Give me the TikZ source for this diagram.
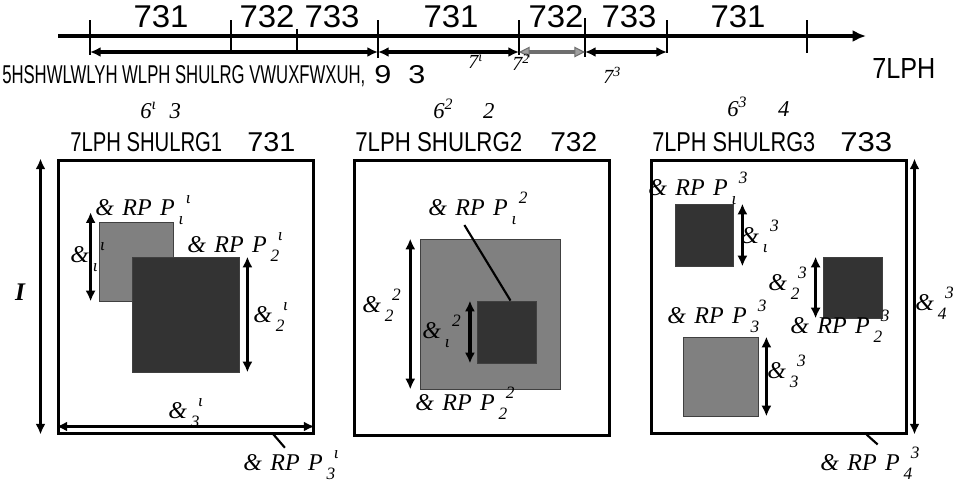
\documentclass[tikz,border=0pt]{standalone}
\usepackage{fontspec}
\usepackage{graphicx}
\setmainfont{Liberation Serif}
\newfontfamily\arialfont{Liberation Sans}
\usetikzlibrary{arrows.meta, fit, positioning}
\definecolor{sqdark}{HTML}{333333}
\definecolor{sqlight}{HTML}{808080}
\definecolor{tipgray}{HTML}{6E6E6E}
\newlength\pxu \setlength\pxu{0.75pt}
\newcommand{\supsub}[2]{\rlap{\hspace{0.3em}\raisebox{0.5em}{\fontsize{13}{13}\selectfont #2}}\raisebox{-0.4em}{\fontsize{13}{13}\selectfont #1}\hspace{0.3em}}
\newcommand{\cmlab}[3]{#1\hspace{3pt}\supsub{#2}{#3}}
\newcommand{\squeeze}[3]{\resizebox{#1\pxu}{#2\pxu}{#3}}
\tikzstyle{periodbox} = [draw, line width=2.25pt, inner sep=0pt]
\tikzstyle{darksq} = [draw=black!75, fill=sqdark, line width=0.6pt, inner sep=0pt]
\tikzstyle{lightsq} = [draw=black!75, fill=sqlight, line width=0.6pt, inner sep=0pt]
\tikzstyle{dimarrow} = [line width=2.4pt, {Latex[length=8pt,width=7.5pt]}-{Latex[length=8pt,width=7.5pt]}]
\tikzstyle{grayarrow} = [line width=2.4pt, draw=tipgray, {Triangle[length=8pt,width=8pt,fill=gray!75,line width=0.8pt]}-{Triangle[length=8pt,width=8pt,fill=gray!75,line width=0.8pt]}]
\tikzstyle{tick} = [line width=2pt]
\tikzstyle{pointer} = [line width=1.6pt]
\tikzstyle{lbl} = [font=\fontsize{18}{20}\selectfont\itshape, inner sep=0pt, anchor=base west]
\tikzstyle{smalllbl} = [font=\fontsize{15}{17}\selectfont\itshape, inner sep=0pt, anchor=base west]
\tikzstyle{sanslbl} = [font=\arialfont, inner sep=0pt, anchor=base west]

\begin{document}
\begin{tikzpicture}[x=0.75pt, y=-0.75pt]
	\useasboundingbox (0,0) rectangle (963,482);
	% time axis
	\coordinate (axstart) at (58,36);
	\coordinate (axend) at (866,36);
	\draw[line width=3.2pt, -{Latex[length=10pt,width=9pt]}] (axstart) -- (axend);
	\foreach \x/\ya/\yb [count=\i] in {90/20/55, 231/20/52, 297/29/52, 378/20/58, 519/20/55, 585/18/57, 667/20/53, 807/20/53}{
		\coordinate (tka\i) at (\x,\ya);
		\coordinate (tkb\i) at (\x,\yb);
		\draw[tick] (tka\i) -- (tkb\i);
	}
	\foreach \x/\t [count=\i] in {161/731, 267/732, 332/733, 451/731, 556/732, 629/733, 738/731}
		\node[sanslbl, anchor=base] (tp\i) at (\x,27) {\squeeze{55}{22}{\t}};
	\node[sanslbl] (timelab) at (872,78) {\squeeze{63}{20}{7LPH}};
	% repetitive structure
	\coordinate (r1) at (90,52);
	\coordinate (r2) at (378,52);
	\coordinate (r3) at (519,52);
	\coordinate (r4) at (585,52);
	\coordinate (r5) at (667,52);
	\draw[dimarrow] (r1) -- (r2);
	\draw[dimarrow] (r2) -- (r3);
	\draw[grayarrow] (r3) -- (r4);
	\draw[dimarrow] (r4) -- (r5);
	\node[sanslbl] (structlab) at (2,83) {\squeeze{363}{18}{5HSHWLWLYH WLPH SHULRG VWUXFWXUH,}\hspace{9\pxu}\squeeze{51}{18}{9\ \ 3}};
	\node[smalllbl] (tlab1) at (468,68) {7\textsuperscript{ι}};
	\node[smalllbl] (tlab2) at (512,70) {7\textsuperscript{2}};
	\node[smalllbl] (tlab3) at (603,83) {7\textsuperscript{3}};
	% titles
	\node[smalllbl, font=\fontsize{17}{19}\selectfont\itshape] (s1) at (140,118) {6\textsuperscript{ι}\hspace{13\pxu}3};
	\node[smalllbl, font=\fontsize{17}{19}\selectfont\itshape] (s2) at (433,118) {6\textsuperscript{2}\hspace{30\pxu}2};
	\node[smalllbl, font=\fontsize{17}{19}\selectfont\itshape] (s3) at (727,116) {6\textsuperscript{3}\hspace{31\pxu}4};
	\node[sanslbl] (title1) at (70,151) {\squeeze{152}{19}{7LPH SHULRG1}\hspace{25\pxu}\squeeze{48}{19}{731}};
	\node[sanslbl] (title2) at (355,151) {\squeeze{167}{19}{7LPH SHULRG2}\hspace{28\pxu}\squeeze{47}{19}{732}};
	\node[sanslbl] (title3) at (652,151) {\squeeze{163}{19}{7LPH SHULRG3}\hspace{25\pxu}\squeeze{52}{19}{733}};

	% period 1
	\node[periodbox, fit={(58,160) (313,433)}] (box1) {};
	\node[lightsq, fit={(99,222) (173,301)}] (c11) {};
	\node[darksq, fit={(132,257) (239,372)}] (c12) {};
	\draw[dimarrow] ([xshift=-12pt]box1.north west) -- ([xshift=-12pt]box1.south west);
	\draw[dimarrow] ([xshift=-6pt,yshift=7pt]c11.north west) -- ([xshift=-6pt]c11.south west);
	\draw[dimarrow] ([xshift=6pt]c12.north east) -- ([xshift=6pt]c12.south east);
	\draw[dimarrow] ([yshift=6pt]box1.south west) -- ([yshift=6pt]box1.south east);
	\node[font=\fontsize{19}{20}\selectfont\bfseries\itshape, inner sep=0pt] (heightlab) at (20,292) {I};
	\node[lbl] (lab11) at (95,215) {\cmlab{\&\hspace{0.35em}RP\hspace{0.35em}P}{ι}{ι}};
	\node[lbl] (lab12) at (187,252) {\cmlab{\&\hspace{0.35em}RP\hspace{0.35em}P}{2}{ι}};
	\node[lbl] (dim11) at (70,262) {\cmlab{\&}{ι}{ι}};
	\node[lbl] (dim12) at (253,322) {\cmlab{\&}{2}{ι}};
	\node[lbl] (dim13) at (168,418) {\cmlab{\&}{3}{ι}};
	\node[lbl] (lab13) at (243,470) {\cmlab{\&\hspace{0.35em}RP\hspace{0.35em}P}{3}{ι}};
	\draw[pointer, shorten >=2pt] ([xshift=66pt]box1.south) -- ([xshift=-2pt]lab13.north);

	% period 2
	\node[periodbox, fit={(354,160) (609,435)}] (box2) {};
	\node[lightsq, fit={(420,239) (560,389)}] (c22) {};
	\node[darksq, fit={(477,301) (536,363)}] (c21) {};
	\draw[dimarrow] ([xshift=-7pt]c22.north west) -- ([xshift=-7pt]c22.south west);
	\draw[dimarrow] ([xshift=-5pt]c21.north west) -- ([xshift=-5pt]c21.south west);
	\node[lbl] (lab21) at (428,215) {\cmlab{\&\hspace{0.35em}RP\hspace{0.35em}P}{ι}{2}};
	\node[lbl] (dim22) at (362,312) {\cmlab{\&}{2}{2}};
	\node[lbl] (dim21) at (422,338) {\cmlab{\&}{ι}{2}};
	\node[lbl] (lab22) at (415,410) {\cmlab{\&\hspace{0.35em}RP\hspace{0.35em}P}{2}{2}};
	\draw[pointer] ([xshift=-6pt]lab21.south) -- ([xshift=3pt]c21.north);

	% period 3
	\node[periodbox, fit={(651,160) (906,433)}] (box3) {};
	\node[darksq, fit={(675,204) (733,266)}] (c31) {};
	\node[darksq, fit={(823,257) (882,318)}] (c32) {};
	\node[lightsq, fit={(683,337) (758,416)}] (c33) {};
	\draw[dimarrow] ([xshift=6.75pt]c31.north east) -- ([xshift=6.75pt]c31.south east);
	\draw[dimarrow] ([xshift=-5.25pt]c32.north west) -- ([xshift=-5.25pt]c32.south west);
	\draw[dimarrow] ([xshift=6pt]c33.north east) -- ([xshift=6pt]c33.south east);
	\draw[dimarrow] ([xshift=5.25pt]box3.north east) -- ([xshift=5.25pt]box3.south east);
	\node[lbl] (lab31) at (648,195) {\cmlab{\&\hspace{0.35em}RP\hspace{0.35em}P}{ι}{3}};
	\node[lbl] (dim31) at (740,243) {\cmlab{\&}{ι}{3}};
	\node[lbl] (dim32) at (768,290) {\cmlab{\&}{2}{3}};
	\node[lbl] (lab33) at (667,323) {\cmlab{\&\hspace{0.35em}RP\hspace{0.35em}P}{3}{3}};
	\node[lbl] (lab32) at (790,333) {\cmlab{\&\hspace{0.35em}RP\hspace{0.35em}P}{2}{3}};
	\node[lbl] (dim33) at (767,378) {\cmlab{\&}{3}{3}};
	\node[lbl] (dim34) at (915,310) {\cmlab{\&}{4}{3}};
	\node[lbl] (lab34) at (820,470) {\cmlab{\&\hspace{0.35em}RP\hspace{0.35em}P}{4}{3}};
	\draw[pointer, shorten >=2pt] ([xshift=66pt]box3.south) -- ([xshift=10pt]lab34.north);
\end{tikzpicture}
\end{document}
